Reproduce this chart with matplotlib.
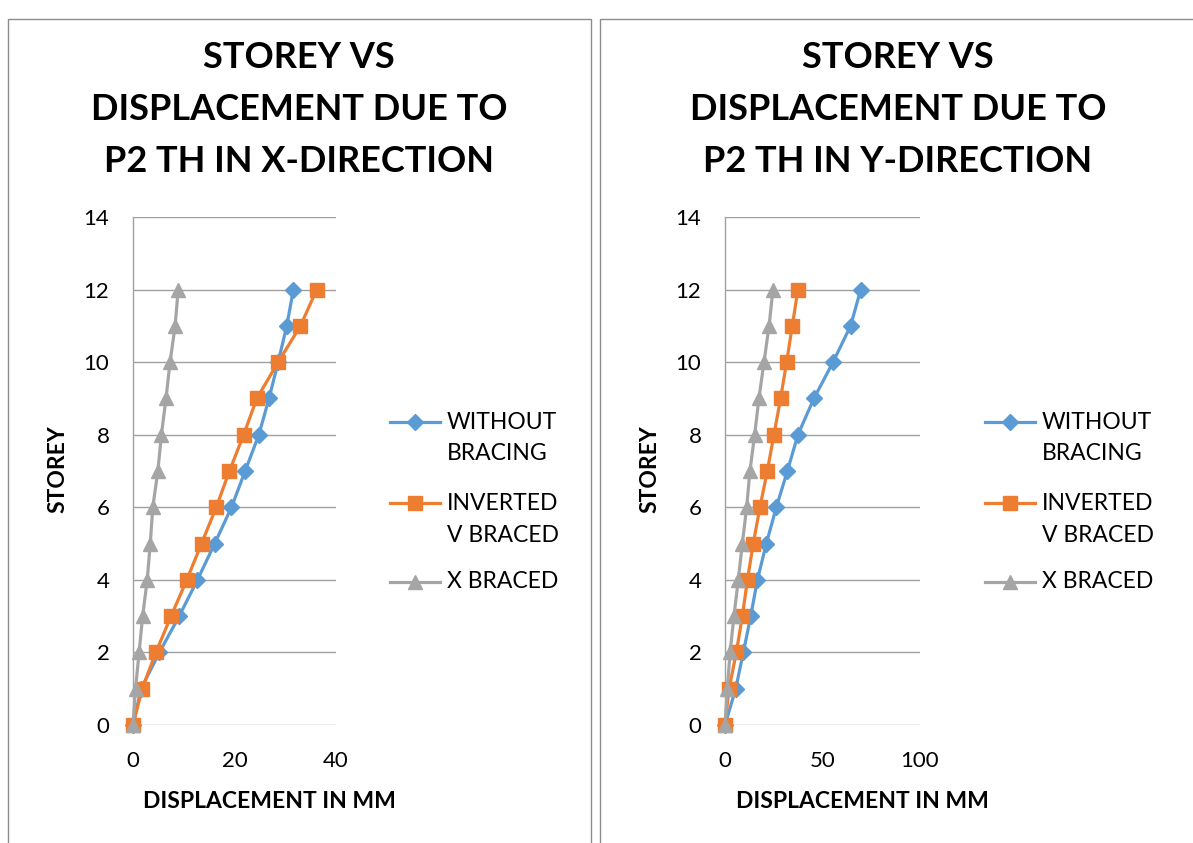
import matplotlib
matplotlib.use("Agg")
import matplotlib.pyplot as plt
from matplotlib.patches import Rectangle
from matplotlib.lines import Line2D

plt.rcParams['font.family'] = ['Lato', 'DejaVu Sans']

storey = [0, 1, 2, 3, 4, 5, 6, 7, 8, 9, 10, 11, 12]

# Displacement (mm), X-direction
x_without = [0, 1.6, 5.2, 9.1, 12.7, 16.1, 19.4, 22.1, 24.8, 26.8, 28.6, 30.3, 31.6]
x_inverted_v = [0, 1.8, 4.5, 7.5, 10.6, 13.5, 16.4, 19.0, 21.8, 24.4, 28.6, 33.0, 36.2]
x_x_braced = [0, 0.5, 1.2, 1.9, 2.8, 3.4, 3.9, 4.9, 5.6, 6.5, 7.3, 8.3, 8.9]

# Displacement (mm), Y-direction
y_without = [0, 5.5, 9.4, 13.2, 16.6, 21.2, 26.3, 32.0, 37.4, 45.6, 55.4, 64.4, 69.6]
y_inverted_v = [0, 2.1, 5.8, 8.9, 11.5, 14.5, 17.9, 21.7, 25.1, 28.5, 31.6, 34.5, 37.4]
y_x_braced = [0, 1.2, 2.6, 4.6, 6.8, 8.9, 11.1, 12.8, 15.2, 17.4, 20.0, 22.6, 24.6]

series_labels = [["WITHOUT", "BRACING"], ["INVERTED", "V BRACED"], ["X BRACED"]]
title_lines_x = ["STOREY VS", "DISPLACEMENT DUE TO", "P2 TH IN X-DIRECTION"]
title_lines_y = ["STOREY VS", "DISPLACEMENT DUE TO", "P2 TH IN Y-DIRECTION"]
x_ticks_left = [0, 20, 40]
x_ticks_right = [0, 50, 100]
y_ticks = [0, 2, 4, 6, 8, 10, 12, 14]

W, H = 1193, 843
fig = plt.figure(figsize=(W / 100, H / 100), dpi=100)
fig.patch.set_facecolor("white")


def fx(px):
    return px / W


def fy(py):
    return 1 - py / H


# chart frames
for x0, x1 in [(8, 591), (600, 1200)]:
    fig.patches.append(Rectangle((fx(x0), fy(860)), fx(x1 - x0), (860 - 19) / H,
                                 transform=fig.transFigure, fill=False,
                                 edgecolor="#8c8c8c", linewidth=1.0))

colors = ["#5B9BD5", "#ED7D31", "#A5A5A5"]
markers = ["D", "s", "^"]
msizes = [8.5, 10, 10]
lw = 2.3

panels = [
    dict(left=133, right=336, data=[x_without, x_inverted_v, x_x_braced],
         xticks=x_ticks_left, title=title_lines_x, cx=299, lab_cx=269, leg_x=390),
    dict(left=725, right=920, data=[y_without, y_inverted_v, y_x_braced],
         xticks=x_ticks_right, title=title_lines_y, cx=898, lab_cx=862, leg_x=985),
]

# vertical pixel positions of legend text lines for each entry
legend_rows = [[422, 453], [503, 535], [582]]

top, bottom = 217, 725
for p in panels:
    ax = fig.add_axes([fx(p["left"]), fy(bottom), fx(p["right"] - p["left"]),
                       (bottom - top) / H])
    for vals, c, m, ms in zip(p["data"], colors, markers, msizes):
        ax.plot(vals, storey, color=c, marker=m, markersize=ms, linewidth=lw,
                markeredgecolor=c, clip_on=False, zorder=3)
    ax.set_xlim(p["xticks"][0], p["xticks"][-1])
    ax.set_ylim(0, 14)
    ax.set_xticks(p["xticks"])
    ax.set_yticks(y_ticks)
    ax.tick_params(length=0, labelsize=16, labelcolor="#000000")
    ax.tick_params(axis="y", pad=17)
    ax.tick_params(axis="x", pad=19)
    ax.yaxis.grid(True, color="#a0a0a0", linewidth=1.0)
    ax.set_axisbelow(True)
    for s in ["top", "right", "bottom"]:
        ax.spines[s].set_visible(False)
    ax.spines["left"].set_color("#a0a0a0")
    ax.spines["left"].set_linewidth(1.0)

    for line, ty in zip(p["title"], [58, 110, 161]):
        fig.text(fx(p["cx"]), fy(ty), line, ha="center", va="center",
                 fontsize=26, fontweight="bold")
    fig.text(fx(p["lab_cx"]), fy(801), "DISPLACEMENT IN MM", ha="center",
             va="center", fontsize=16.5, fontweight="bold")
    fig.text(fx(p["left"] - 75), fy(469), "STOREY", ha="center", va="center",
             rotation=90, fontsize=16.5, fontweight="bold")

    # legend: line sample with marker, text lines beside it
    lx0, lx1 = p["leg_x"], p["leg_x"] + 50
    for c, m, ms, lines, rows in zip(colors, markers, msizes, series_labels, legend_rows):
        fig.add_artist(Line2D([fx(lx0), fx(lx1)], [fy(rows[0]), fy(rows[0])],
                              transform=fig.transFigure, color=c, linewidth=lw))
        fig.add_artist(Line2D([fx((lx0 + lx1) / 2)], [fy(rows[0])],
                              transform=fig.transFigure, color=c, marker=m,
                              markersize=ms, markeredgecolor=c, linestyle="none"))
        for txt, ry in zip(lines, rows):
            fig.text(fx(lx1 + 7), fy(ry), txt, ha="left", va="center", fontsize=16.5)

fig.savefig("out.png", dpi=100)
